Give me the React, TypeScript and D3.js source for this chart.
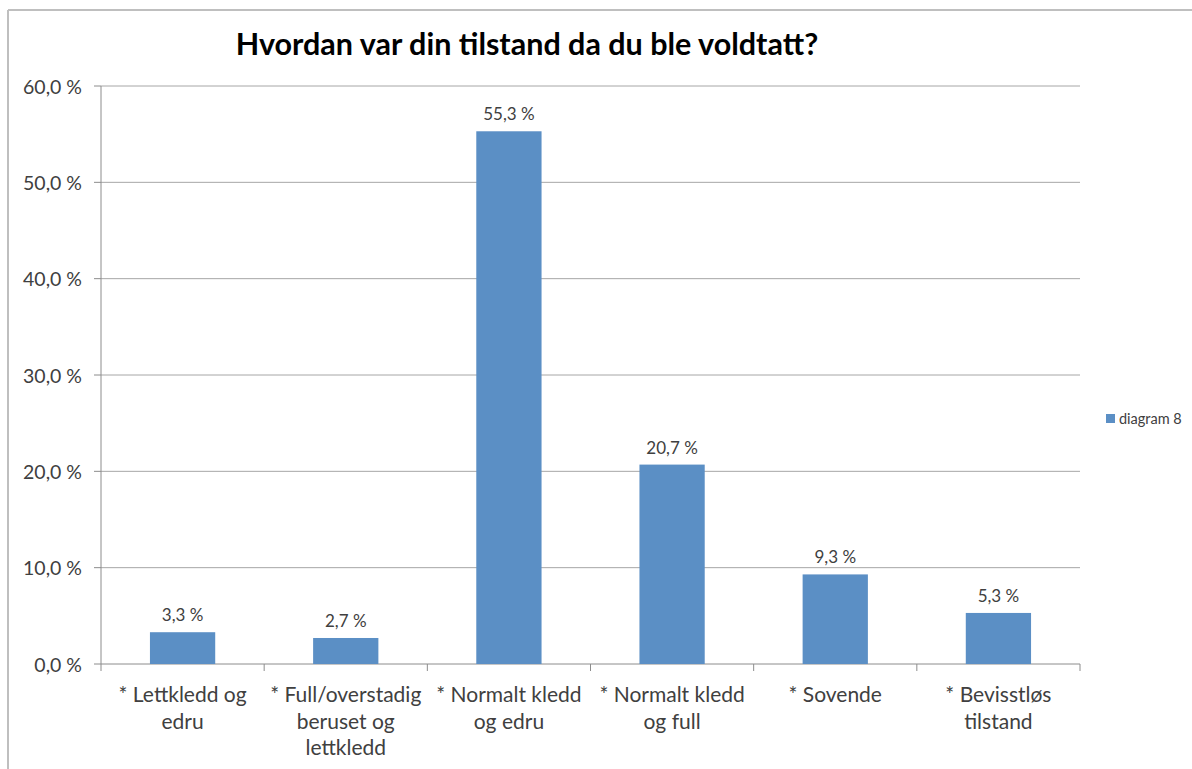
import React from "react";
import * as d3 from "d3";

const categories: string[][] = [
  ["* Lettkledd og", "edru"],
  ["* Full/overstadig", "beruset og", "lettkledd"],
  ["* Normalt kledd", "og edru"],
  ["* Normalt kledd", "og full"],
  ["* Sovende"],
  ["* Bevisstløs", "tilstand"],
];
const values: number[] = [3.3, 2.7, 55.3, 20.7, 9.3, 5.3];
const yTicks: number[] = [0, 10, 20, 30, 40, 50, 60];
const seriesName = "diagram 8";
const title = "Hvordan var din tilstand da du ble voldtatt?";

const W = 1192;
const H = 769;
const left = 101;
const right = 1080;
const top = 86;
const bottom = 664;
const FONT = "Lato, 'Open Sans', sans-serif";
const BAR = "#5b8fc5";
const TXT = "#404040";

const fmt = (v: number) => d3.format(".1f")(v).replace(".", ",") + " %";

export default function App() {
  const x = d3
    .scaleBand<number>()
    .domain(d3.range(values.length))
    .range([left, right])
    .paddingInner(0.6)
    .paddingOuter(0.3);
  const xb = d3.scaleBand<number>().domain(d3.range(values.length)).range([left, right]);
  const y = d3.scaleLinear().domain([0, 60]).range([bottom, top]);

  return (
    <svg
      width={W}
      height={H}
      style={{ position: "absolute", left: 0, top: 0, background: "#fff" }}
    >
      {/* outer frame */}
      <line x1={8} x2={W} y1={10} y2={10} stroke="#bfbfbf" strokeWidth={2} />
      <line x1={8} x2={8} y1={10} y2={H} stroke="#bfbfbf" strokeWidth={2} />

      <text
        x={527}
        y={55}
        textAnchor="middle"
        fontFamily={FONT}
        fontWeight="bold"
        fontSize={30.5}
        fill="#000"
      >
        {title}
      </text>

      {/* gridlines and y ticks */}
      {yTicks.map((t) => (
        <g key={t}>
          {t > 0 && (
            <line x1={left} x2={right} y1={y(t)} y2={y(t)} stroke="#a6a6a6" strokeWidth={1} />
          )}
          <line x1={left - 7} x2={left} y1={y(t)} y2={y(t)} stroke="#8c8c8c" strokeWidth={1} />
          <text
            x={82}
            y={y(t) + 7.5}
            textAnchor="end"
            fontFamily={FONT}
            fontSize={19.5}
            fill={TXT}
          >
            {fmt(t)}
          </text>
        </g>
      ))}

      {/* axes */}
      <line x1={left} x2={left} y1={top} y2={bottom} stroke="#8c8c8c" strokeWidth={1} />
      <line x1={left} x2={right} y1={bottom} y2={bottom} stroke="#8c8c8c" strokeWidth={1} />
      {d3.range(values.length + 1).map((i) => {
        const xx = i < values.length ? (xb(i) as number) : right;
        return (
          <line key={i} x1={xx} x2={xx} y1={bottom} y2={bottom + 7} stroke="#8c8c8c" strokeWidth={1} />
        );
      })}

      {/* bars */}
      {values.map((v, i) => (
        <g key={i}>
          <rect
            x={x(i)}
            y={y(v)}
            width={x.bandwidth()}
            height={bottom - y(v)}
            fill={BAR}
          />
          <text
            x={(x(i) as number) + x.bandwidth() / 2}
            y={y(v) - 11}
            textAnchor="middle"
            fontFamily={FONT}
            fontSize={17}
            fill={TXT}
          >
            {fmt(v)}
          </text>
        </g>
      ))}

      {/* category labels */}
      {categories.map((lines, i) => (
        <text
          key={i}
          x={(xb(i) as number) + xb.bandwidth() / 2}
          y={702}
          textAnchor="middle"
          fontFamily={FONT}
          fontSize={21}
          fill={TXT}
        >
          {lines.map((l, j) => (
            <tspan key={j} x={(xb(i) as number) + xb.bandwidth() / 2} dy={j === 0 ? 0 : 26.5}>
              {l}
            </tspan>
          ))}
        </text>
      ))}

      {/* legend */}
      <rect x={1106} y={414} width={9} height={9} fill={BAR} />
      <text x={1119} y={424} fontFamily={FONT} fontSize={14.5} fill={TXT}>
        {seriesName}
      </text>
    </svg>
  );
}
